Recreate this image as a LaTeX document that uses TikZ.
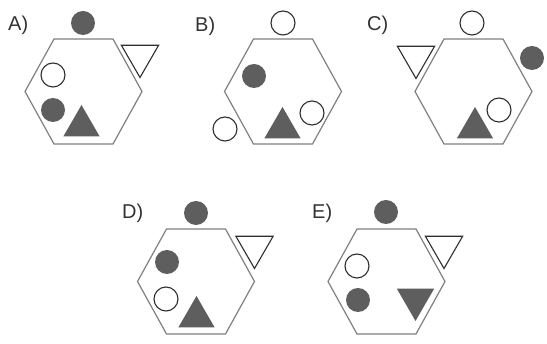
\documentclass[tikz,border=0pt]{standalone}
\usepackage{fontspec}
\setmainfont{Liberation Sans}
\usetikzlibrary{shapes.geometric}
\definecolor{hexgrey}{HTML}{808080}
\definecolor{fillgrey}{HTML}{5E5E5E}
\definecolor{inkgrey}{HTML}{2E2E2E}
\definecolor{labgrey}{HTML}{333333}
\tikzset{
  hexline/.style={draw=hexgrey, line width=1.2pt},
  fc/.style={circle, fill=fillgrey, inner sep=0pt, minimum size=24pt},
  oc/.style={circle, draw=inkgrey, line width=1.1pt, inner sep=0pt, minimum size=24pt},
  uptri/.style={regular polygon, regular polygon sides=3, fill=fillgrey, inner sep=0pt, minimum size=42pt},
  dntri/.style={regular polygon, regular polygon sides=3, shape border rotate=180, inner sep=0pt, minimum size=43pt},
  dnout/.style={dntri, draw=inkgrey, line width=1.1pt, fill=white},
  dnfill/.style={dntri, fill=fillgrey},
  lab/.style={font=\fontsize{20}{20}\selectfont, text=labgrey, anchor=base west, inner sep=0pt}
}
\newcommand\hexagonat[2]{%
  \draw[hexline] (#1-29.5,#2-52.5) -- (#1+29.5,#2-52.5) -- (#1+58.5,#2) --
    (#1+29.5,#2+52.5) -- (#1-29.5,#2+52.5) -- (#1-58.5,#2) -- cycle;}
\begin{document}
\begin{tikzpicture}[x=1pt,y=-1pt]
\useasboundingbox[fill=white] (0,0) rectangle (547,344);
% A
\hexagonat{83.5}{91.5}
\node[lab] (la) at (8,31) {A)};
\node[fc] (a1) at (83,23) {};
\node[oc] (a2) at (53,75) {};
\node[fc] (a3) at (53,110) {};
\node[uptri] (a4) at (81.5,126) {};
\node[dnout] (a5) at (140,56) {};
% B
\hexagonat{283}{91.5}
\node[lab] (lb) at (195,32) {B)};
\node[oc] (b1) at (283,23) {};
\node[fc] (b2) at (254,76) {};
\node[oc] (b3) at (312,113) {};
\node[oc] (b4) at (225,129) {};
\node[uptri] (b5) at (282.5,128) {};
% C
\hexagonat{473.5}{91.5}
\node[lab] (lc) at (367,31) {C)};
\node[oc] (c1) at (472,23) {};
\node[fc] (c2) at (532,58) {};
\node[oc] (c3) at (499,110) {};
\node[uptri] (c4) at (475,128) {};
\node[dnout] (c5) at (416,57) {};
% D
\hexagonat{196}{281.5}
\node[lab] (ld) at (122,219) {D)};
\node[fc] (d1) at (196,213) {};
\node[fc] (d2) at (167,262) {};
\node[oc] (d3) at (166,299) {};
\node[uptri] (d4) at (196.5,317) {};
\node[dnout] (d5) at (254.5,247) {};
% E
\hexagonat{386.5}{281.5}
\node[lab] (le) at (312,219) {E)};
\node[fc] (e1) at (386,212) {};
\node[oc] (e2) at (357,266) {};
\node[fc] (e3) at (358,300) {};
\node[dnfill] (e4) at (415.5,299.5) {};
\node[dnout] (e5) at (444,247) {};
\end{tikzpicture}
\end{document}
